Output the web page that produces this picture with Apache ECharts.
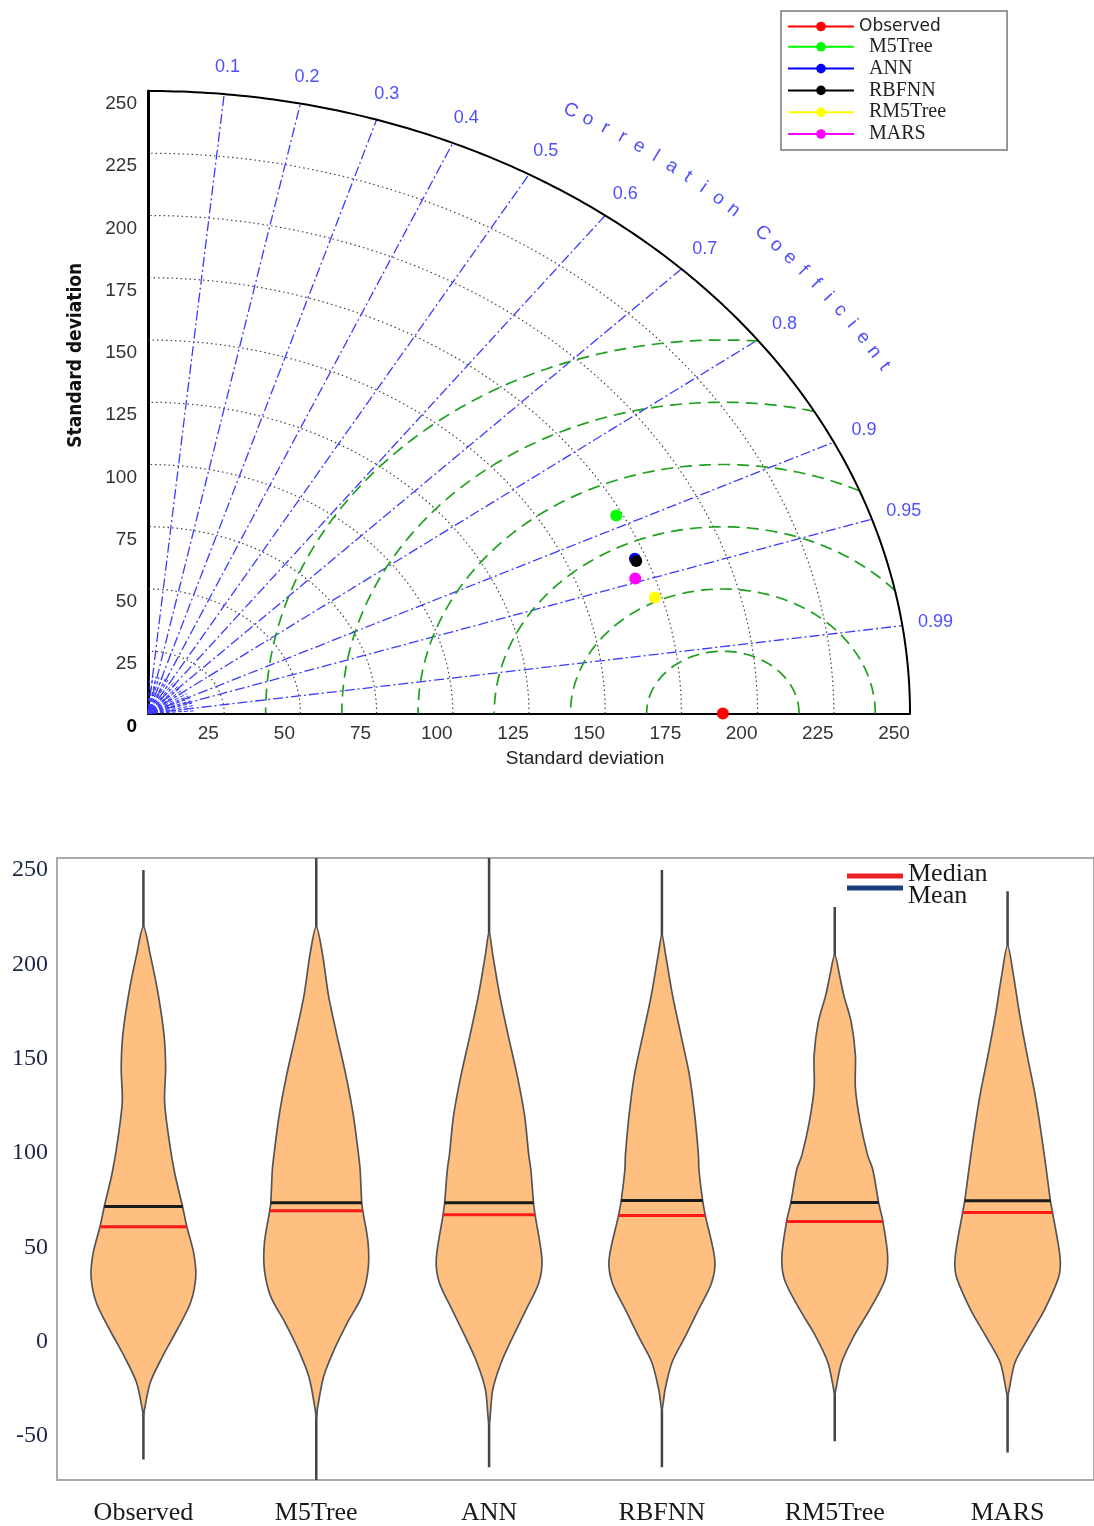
<!DOCTYPE html>
<html>
<head>
<meta charset="utf-8">
<script src="https://cdn.jsdelivr.net/npm/echarts@6/dist/echarts.min.js"></script>
<style>
  html, body { margin: 0; padding: 0; background: #fff; }
  #chart { width: 1094px; height: 1526px; }
</style>
</head>
<body>
<div id="chart"></div>
<script>
// ---- Taylor diagram data ----
const models = ["Observed", "M5Tree", "ANN", "RBFNN", "RM5Tree", "MARS"];
const modelColors = ["#ff0000", "#00ff00", "#0000ff", "#000000", "#ffff00", "#ff00ff"];
const taylorStd = [188.6, 173.0, 171.4, 171.5, 172.7, 168.8];
const taylorCorr = [1.0, 0.888, 0.932, 0.934, 0.963, 0.947];
const stdTicks = [25, 50, 75, 100, 125, 150, 175, 200, 225];
const stdMax = 250;
const corrTicks = [0.1, 0.2, 0.3, 0.4, 0.5, 0.6, 0.7, 0.8, 0.9, 0.95, 0.99];
const rmsTicks = [25, 50, 75, 100, 125, 150];
const corrTitle = "Correlation Coefficient";

// ---- violin data (value, relative density) ----
const violinNames = ["Observed", "M5Tree", "ANN", "RBFNN", "RM5Tree", "MARS"];
const violinMin = [-62.5, -74, -66.7, -66.7, -52.8, -58.8];
const violinMax = [250, 258, 258, 250, 230.4, 238.8];
const violinMean = [71.6, 73.6, 73.6, 74.8, 73.7, 74.6];
const violinMedian = [60.9, 69.3, 67.2, 66.9, 63.7, 68.4];
const obsProfile = [[220, 0], [205, 0.13], [184, 0.28], [162.5, 0.39], [145, 0.42], [127, 0.40], [106, 0.49], [89.5, 0.59], [71.6, 0.74], [61, 0.82], [47, 0.95], [34.4, 0.99], [20.6, 0.89], [6.4, 0.64], [-8, 0.36], [-21.7, 0.13], [-36, 0.02], [-39, 0]];
const m5Profile = [[220, 0], [205, 0.12], [183.7, 0.23], [162.5, 0.39], [141.3, 0.56], [120.2, 0.70], [99, 0.80], [91.1, 0.83], [73.6, 0.86], [69.3, 0.88], [52.4, 0.98], [38.1, 0.98], [23.8, 0.86], [10.1, 0.59], [-4.2, 0.34], [-18.5, 0.14], [-36, 0.02], [-41, 0]];
const annProfile = [[217, 0], [205, 0.07], [183.7, 0.20], [162.5, 0.36], [141.3, 0.53], [120.2, 0.67], [99, 0.75], [91.1, 0.79], [73.6, 0.84], [67.2, 0.87], [43.4, 1.0], [31.2, 0.94], [16.9, 0.70], [2.6, 0.45], [-11.1, 0.23], [-25.4, 0.07], [-39.7, 0.02], [-44, 0]];
const rbfProfile = [[215.5, 0], [205, 0.07], [183.7, 0.20], [162.5, 0.36], [141.3, 0.52], [120.2, 0.62], [99, 0.69], [91.1, 0.70], [74.8, 0.77], [66.9, 0.82], [43.4, 1.0], [31.2, 0.94], [16.9, 0.69], [2.6, 0.44], [-11.1, 0.19], [-25.4, 0.06], [-36, 0]];
const rm5Profile = [[205, 0], [194.3, 0.09], [183.7, 0.17], [169.6, 0.31], [151.9, 0.39], [134.5, 0.39], [116.6, 0.48], [99, 0.62], [91.1, 0.72], [73.7, 0.83], [63.7, 0.91], [45.2, 1.0], [32.8, 0.95], [16.9, 0.66], [2.8, 0.36], [-11.1, 0.13], [-25.4, 0.02], [-28, 0]];
const marsProfile = [[210, 0], [194.3, 0.11], [173.1, 0.23], [151.9, 0.37], [130.8, 0.52], [109.6, 0.64], [89.5, 0.74], [74.6, 0.81], [68.4, 0.85], [45.2, 0.99], [34.6, 0.97], [16.9, 0.70], [2.8, 0.41], [-11.1, 0.14], [-25.4, 0.03], [-29, 0]];
const violinProfiles = [obsProfile, m5Profile, annProfile, rbfProfile, rm5Profile, marsProfile];
const violinYMin = -73.4;
const violinYMax = 256.4;

// layout of the taylor grid (pixels), used for the rotated title letters
const TG = { left: 148, top: 91, width: 762, height: 622.5 };

function polar(r, c) {
  const t = Math.acos(c);
  return [r * Math.cos(t), r * Math.sin(t)];
}

function arcPoints(r, a0, a1, step) {
  const pts = [];
  for (let a = a0; a <= a1 + 1e-9; a += step) {
    pts.push([r * Math.cos(a), r * Math.sin(a)]);
  }
  return pts;
}

function densityAt(profile, v) {
  for (let i = 0; i < profile.length - 1; i++) {
    const [v0, d0] = profile[i];
    const [v1, d1] = profile[i + 1];
    if (v <= v0 && v >= v1) {
      return d0 + (d1 - d0) * (v0 - v) / (v0 - v1);
    }
  }
  return 0;
}

const series = [];

// std-dev arcs (dotted)
stdTicks.forEach((s) => {
  series.push({
    type: "line", xAxisIndex: 0, yAxisIndex: 0, silent: true, showSymbol: false, symbol: "none",
    data: arcPoints(s, 0, Math.PI / 2, Math.PI / 360),
    lineStyle: { color: "#444", width: 1.2, type: [1.5, 3] },
    z: 1,
  });
});

// minor rays near origin
for (let deg = 4; deg < 90; deg += 4) {
  const a = deg * Math.PI / 180;
  series.push({
    type: "line", xAxisIndex: 0, yAxisIndex: 0, silent: true, showSymbol: false, symbol: "none",
    data: [[0, 0], [15 * Math.cos(a), 15 * Math.sin(a)]],
    lineStyle: { color: "#3333ff", width: 1, type: [4, 2] },
    z: 2,
  });
}

// correlation rays (dash-dot)
corrTicks.forEach((c) => {
  series.push({
    type: "line", xAxisIndex: 0, yAxisIndex: 0, silent: true, showSymbol: false, symbol: "none",
    data: [[0, 0], polar(stdMax, c)],
    lineStyle: { color: "#3b3bff", width: 1.3, type: [10, 3, 2, 3] },
    z: 2,
  });
});

// centred RMS arcs (green dashed) around the observed point
const refStd = taylorStd[0];
rmsTicks.forEach((R) => {
  let cos0 = (stdMax * stdMax - refStd * refStd - R * R) / (2 * refStd * R);
  cos0 = Math.max(-1, Math.min(1, cos0));
  const phi0 = Math.acos(cos0);
  const pts = [];
  const n = 180;
  for (let k = 0; k <= n; k++) {
    const p = phi0 + (Math.PI - phi0) * k / n;
    pts.push([refStd + R * Math.cos(p), Math.max(0, R * Math.sin(p))]);
  }
  series.push({
    type: "line", xAxisIndex: 0, yAxisIndex: 0, silent: true, showSymbol: false, symbol: "none",
    data: pts,
    lineStyle: { color: "#1fa01f", width: 1.7, type: [12, 7] },
    z: 3,
  });
});

// outer arc
series.push({
  type: "line", xAxisIndex: 0, yAxisIndex: 0, silent: true, showSymbol: false, symbol: "none",
  data: arcPoints(stdMax, 0, Math.PI / 2, Math.PI / 360),
  lineStyle: { color: "#000", width: 2 },
  z: 4,
});

// correlation labels
series.push({
  type: "scatter", xAxisIndex: 0, yAxisIndex: 0, silent: true, clip: false,
  symbolSize: 1, itemStyle: { color: "rgba(0,0,0,0)" },
  data: corrTicks.map((c) => ({ name: String(c), value: polar(261, c) })),
  label: {
    show: true, position: "inside", formatter: "{b}",
    color: "#2222ff", fontFamily: "Liberation Sans", fontSize: 18,
  },
  z: 5,
});

// curved axis title
{
  const kx = TG.width / stdMax;
  const ky = TG.height / stdMax;
  const a0 = 60.2, a1 = 30.0;
  const letters = corrTitle.split("");
  const data = letters.map((ch, k) => {
    const deg = a0 - (a0 - a1) * k / (letters.length - 1);
    const t = deg * Math.PI / 180;
    const rot = Math.atan2(ky * Math.cos(t), kx * Math.sin(t)) * 180 / Math.PI;
    return { name: ch, value: [279 * Math.cos(t), 279 * Math.sin(t)], label: { rotate: -rot } };
  });
  series.push({
    type: "scatter", xAxisIndex: 0, yAxisIndex: 0, silent: true, clip: false,
    symbolSize: 1, itemStyle: { color: "rgba(0,0,0,0)" },
    data,
    label: {
      show: true, position: "inside", formatter: "{b}",
      color: "#2222ff", fontFamily: "Liberation Sans", fontSize: 19,
    },
    z: 5,
  });
}

// model points
models.forEach((name, i) => {
  series.push({
    type: "line", name, xAxisIndex: 0, yAxisIndex: 0,
    data: [polar(taylorStd[i], taylorCorr[i])],
    symbol: "circle", symbolSize: 12, showSymbol: true,
    itemStyle: { color: modelColors[i] },
    lineStyle: { color: modelColors[i], width: 2 },
    clip: false,
    z: 10 + i,
  });
});

// violins
series.push({
  type: "custom", xAxisIndex: 1, yAxisIndex: 1, silent: true,
  data: violinNames.map((n, i) => [i, violinMedian[i]]),
  encode: { x: 0, y: 1 },
  renderItem(params, api) {
    const i = params.dataIndex;
    const prof = violinProfiles[i];
    const band = api.size([1, 0])[0];
    const maxHalf = band * 0.306;
    const cx = api.coord([i, 0])[0];
    const yOf = (v) => api.coord([i, v])[1];
    const right = prof.map(([v, d]) => [cx + d * maxHalf, yOf(v)]);
    const left = prof.slice(1, -1).reverse().map(([v, d]) => [cx - d * maxHalf, yOf(v)]);
    const top = yOf(Math.min(violinMax[i], violinYMax));
    const bot = yOf(Math.max(violinMin[i], violinYMin));
    const hl = (v, color) => {
      const h = densityAt(prof, v) * maxHalf;
      return {
        type: "line",
        shape: { x1: cx - h, y1: yOf(v), x2: cx + h, y2: yOf(v) },
        style: { stroke: color, lineWidth: 3 },
      };
    };
    return {
      type: "group",
      children: [
        { type: "line", shape: { x1: cx, y1: top, x2: cx, y2: bot }, style: { stroke: "#444", lineWidth: 2.5 } },
        {
          type: "polygon",
          shape: { points: right.concat(left), smooth: 0.3 },
          style: { fill: "#ffbf80", stroke: "#555", lineWidth: 1.7 },
        },
        hl(violinMedian[i], "#ff1a1a"),
        hl(violinMean[i], "#1a1a1a"),
      ],
    };
  },
  z: 2,
});

const option = {
  animation: false,
  backgroundColor: "#fff",
  legend: {
    data: models,
    orient: "vertical",
    left: 781, top: 11,
    itemWidth: 66, itemHeight: 12, itemGap: 1.8,
    padding: [7, 61, 6, 6],
    borderColor: "#777", borderWidth: 1.5,
    selectedMode: false,
    formatter: (name) => (name === "Observed" ? `{o|${name}}` : `{s|${name}}`),
    textStyle: {
      rich: {
        o: { fontFamily: "DejaVu Sans", fontSize: 17, color: "#222" },
        s: { fontFamily: "Liberation Serif", fontSize: 20, color: "#222", padding: [0, 0, 0, 10] },
      },
    },
  },
  grid: [
    { left: TG.left, top: TG.top, width: TG.width, height: TG.height, containLabel: false },
    { left: 57, top: 858, width: 1044, height: 622, containLabel: false, show: true, borderColor: "#aaa", borderWidth: 2 },
  ],
  xAxis: [
    {
      type: "value", gridIndex: 0, min: 0, max: stdMax, interval: 25,
      name: "Standard deviation", nameLocation: "middle", nameGap: 36,
      nameTextStyle: { fontFamily: "Liberation Sans", fontSize: 19, color: "#222", padding: [0, 0, 0, 112] },
      axisLine: { show: true, lineStyle: { color: "#000", width: 2 } },
      axisTick: { show: false },
      splitLine: { show: false },
      axisLabel: {
        margin: 11, fontFamily: "Liberation Sans", fontSize: 19, color: "#333",
        padding: [0, 32, 0, 0],
        formatter: (v) => (v === 0 ? "" : String(v)),
      },
    },
    {
      type: "category", gridIndex: 1, data: violinNames,
      axisLine: { show: false }, axisTick: { show: false }, splitLine: { show: false },
      axisLabel: { margin: 20, fontFamily: "Liberation Serif", fontSize: 26, color: "#1a1a1a" },
    },
  ],
  yAxis: [
    {
      type: "value", gridIndex: 0, min: 0, max: stdMax, interval: 25,
      name: "Standard deviation", nameLocation: "middle", nameGap: 62,
      nameTextStyle: {
        fontFamily: "'Liberation Sans Narrow', 'DejaVu Sans Condensed', 'Liberation Sans', sans-serif",
        fontWeight: "bold", fontSize: 19, color: "#111", padding: [0, 0, 0, 94],
      },
      axisLine: { show: true, lineStyle: { color: "#000", width: 3 } },
      axisTick: { show: false },
      splitLine: { show: false },
      axisLabel: {
        margin: 11, fontFamily: "Liberation Sans", fontSize: 19, color: "#333",
        padding: [26, 0, 0, 0],
        formatter: (v) => (v === 0 ? "{b|0}" : String(v)),
        rich: { b: { fontFamily: "Liberation Sans", fontSize: 19, fontWeight: "bold", color: "#000" } },
      },
    },
    {
      type: "value", gridIndex: 1, min: violinYMin, max: violinYMax, splitNumber: 6,
      axisLine: { show: false }, axisTick: { show: false }, splitLine: { show: false },
      axisLabel: {
        margin: 9, fontFamily: "Liberation Serif", fontSize: 24, color: "#1c2744",
        showMinLabel: false, showMaxLabel: false,
      },
    },
  ],
  graphic: [
    { type: "line", shape: { x1: 847, y1: 876, x2: 903, y2: 876 }, style: { stroke: "#ee2222", lineWidth: 5 } },
    { type: "line", shape: { x1: 847, y1: 888, x2: 903, y2: 888 }, style: { stroke: "#1a3f7a", lineWidth: 5 } },
    { type: "text", left: 908, top: 861, style: { text: "Median", font: "26px 'Liberation Serif'", fill: "#1a1a1a" } },
    { type: "text", left: 908, top: 883, style: { text: "Mean", font: "26px 'Liberation Serif'", fill: "#1a1a1a" } },
  ],
  series,
};

const chart = echarts.init(document.getElementById("chart"));
chart.setOption(option);
window.addEventListener("resize", () => chart.resize());
</script>
</body>
</html>
